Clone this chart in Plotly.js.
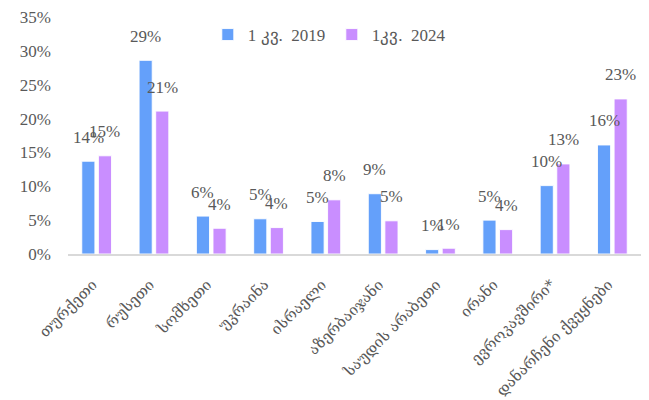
<!DOCTYPE html>
<html>
<head>
<meta charset="utf-8">
<script src="https://cdn.plot.ly/plotly-3.0.1.min.js"></script>
<style>html,body{margin:0;padding:0;background:#fff;}#chart{width:649px;height:400px;}</style>
</head>
<body>
<div id="chart"></div>
<script>
const categories = ["თურქეთი","რუსეთი","სომხეთი","უკრაინა","ისრაელი","აზერბაიჯანი","საუდის არაბეთი","ირანი","ევროკავშირი*","დანარჩენი ქვეყნები"];
const series2019Name = "1 კვ.  2019";
const series2024Name = "1კვ.  2024";
const values2019 = [13.7, 28.6, 5.6, 5.2, 4.8, 8.9, 0.65, 5.0, 10.1, 16.1];
const values2024 = [14.5, 21.1, 3.8, 3.9, 8.0, 4.9, 0.85, 3.6, 13.3, 22.9];
const yTickVals = [0, 5, 10, 15, 20, 25, 30, 35];
const yTickText = yTickVals.map(v => v + "%");

const FONT = "'Liberation Serif', 'Times New Roman', serif";
const GEO_FONT = "'DejaVu Serif', 'Liberation Serif', serif";
const GREY = "#595959";
const BLUE = "#64A0FA";
const PURPLE = "#C98EFF";

const traces = [
  {type: "bar", name: series2019Name, x: categories, y: values2019,
   marker: {color: BLUE, line: {color: "rgba(255,255,255,0.9)", width: 1}}, hoverinfo: "skip"},
  {type: "bar", name: series2024Name, x: categories, y: values2024,
   marker: {color: PURPLE, line: {color: "rgba(255,255,255,0.9)", width: 1}}, hoverinfo: "skip"}
];

const annotations = [];
[[values2019, -8.3], [values2024, 8.3]].forEach(([vals, dx]) => {
  vals.forEach((v, i) => {
    annotations.push({x: categories[i], y: v, xref: "x", yref: "y", text: Math.round(v) + "%",
      showarrow: false, xshift: dx, yshift: 24, yanchor: "middle",
      font: {family: FONT, size: 17, color: GREY}});
  });
});

const layout = {
  width: 649, height: 400,
  margin: {l: 68, r: 8, t: 17, b: 146},
  paper_bgcolor: "#fff", plot_bgcolor: "#fff",
  font: {family: FONT, color: GREY, size: 17},
  barmode: "group", bargap: 0.42, bargroupgap: 0.21,
  showlegend: true,
  legend: {orientation: "h", x: 0.244, xanchor: "left", y: 1.0, yanchor: "top",
    font: {family: FONT, size: 17, color: GREY}, entrywidth: 79, entrywidthmode: "pixels",
    bgcolor: "rgba(0,0,0,0)"},
  xaxis: {type: "category", tickangle: -45, showgrid: false, zeroline: false,
    showline: true, linecolor: "#D9D9D9", linewidth: 2, ticks: "",
    tickfont: {family: GEO_FONT, size: 15, color: GREY}, ticklabelstandoff: 14, ticklabelshift: -4},
  yaxis: {range: [0, 35], tickvals: yTickVals, ticktext: yTickText, tickmode: "array", showgrid: false,
    zeroline: false, showline: false, ticks: "", ticklabelstandoff: 16,
    tickfont: {family: FONT, size: 17, color: GREY}},
  annotations: annotations
};

Plotly.newPlot("chart", traces, layout, {displayModeBar: false, staticPlot: true});
</script>
</body>
</html>
